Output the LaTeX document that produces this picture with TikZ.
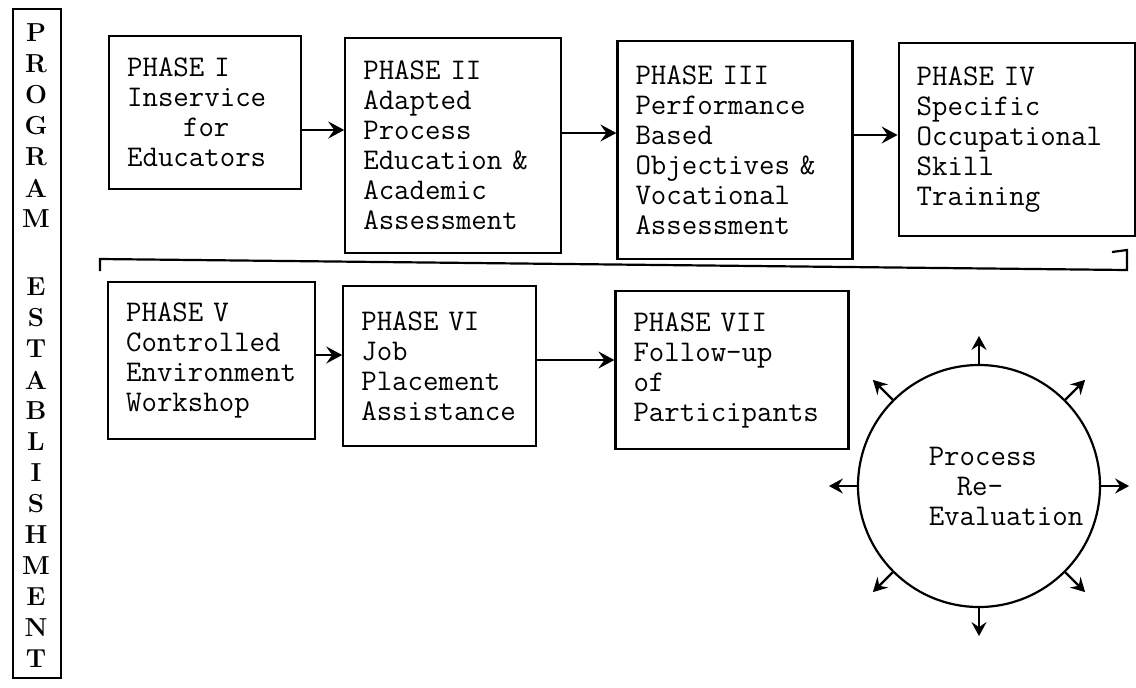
\documentclass[tikz,border=0pt]{standalone}
\usepackage{tikz}
\usetikzlibrary{arrows.meta,positioning}

\begin{document}
\begin{tikzpicture}[
    x=0.5pt, y=-0.5pt,
    phase/.style 2 args={draw, line width=1.1pt, rectangle, align=left,
        inner xsep=9pt, text width=#1, minimum height=#2,
        font=\ttfamily\fontsize{15}{15}\selectfont},
    flow/.style={-{Stealth[length=8pt,width=8.5pt,inset=3pt]}, line width=1.1pt},
    spoke/.style={-{Stealth[length=7pt,width=7.5pt,inset=2.5pt]}, line width=1.2pt},
    letter/.style={font=\bfseries\fontsize{13}{15}\selectfont, inner sep=0pt}
]
\fill[white] (0,0) rectangle (1136,687);
\useasboundingbox (0,0) rectangle (1136,687);

% side banner
\node[draw, line width=1.1pt, minimum width=24pt, minimum height=334.5pt,
      inner sep=0pt, anchor=north west] (estab) at (12,8) {};
\foreach \ch [count=\i from 0] in {P,R,O,G,R,A,M}
    \node[letter] (prog\i) at (36,33+31*\i) {\ch};
\foreach \ch [count=\i from 0] in {E,S,T,A,B,L,I,S,H,M,E,N,T}
    \node[letter] (est\i) at (36,287+31*\i) {\ch};

% first row of phases
\node[phase={78pt}{76.5pt}, anchor=north west] (p1) at (108,35)
    {PHASE I\\Inservice\\\hspace*{28pt}for\\Educators};
\node[phase={90pt}{107.5pt}, right=21pt of p1.north east, anchor=north west, yshift=-1pt] (p2)
    {PHASE II\\Adapted\\Process\\Education \&\\Academic\\Assessment};
\node[phase={99.5pt}{109pt}, right=27pt of p2.north east, anchor=north west, yshift=-1.5pt] (p3)
    {PHASE III\\Performance\\Based\\Objectives \&\\Vocational\\Assessment};
\node[phase={100pt}{96.5pt}, right=22pt of p3.north east, anchor=north west, yshift=-1pt] (p4)
    {PHASE IV\\Specific\\Occupational\\Skill\\Training\\[-9pt]};

% second row of phases
\node[phase={85.5pt}{78.5pt}, anchor=north west] (p5) at (107,281)
    {PHASE V\\Controlled\\Environment\\Workshop};
\node[phase={78.5pt}{80pt}, right=13pt of p5.north east, anchor=north west, yshift=-2pt] (p6)
    {PHASE VI\\Job\\Placement\\Assistance};
\node[phase={98.5pt}{79pt}, right=38.5pt of p6.north east, anchor=north west, yshift=-2.5pt] (p7)
    {PHASE VII\\Follow-up\\of\\Participants};

% arrows between phases
\draw[flow] (p1.east |- 0,130) -- (p2.west |- 0,130);
\draw[flow] (p2.east |- 0,133) -- (p3.west |- 0,133);
\draw[flow] (p3.east |- 0,135) -- (p4.west |- 0,135);
\draw[flow] (p5.east |- 0,355) -- (p6.west |- 0,355);
\draw[flow] (p6.east |- 0,360) -- (p7.west |- 0,360);

% line carrying the flow down to the second row
\coordinate (hookR) at (1112,252);
\coordinate (cornerR) at (1127,250);
\coordinate (turnR) at (1127,270);
\coordinate (turnL) at (100,259);
\coordinate (hookL) at (100,271);
\draw[line width=1.1pt] (hookR) -- (cornerR) -- (turnR) -- (turnL) -- (hookL);

% re-evaluation circle with its spokes
\node[draw, circle, line width=1.1pt, minimum size=121pt, inner sep=0pt] (reval) at (979,486) {};
\node[align=left, font=\ttfamily\fontsize{15}{15}\selectfont, xshift=13.5pt] (revaltext) at (reval.center)
    {Process\\\hspace*{14pt}Re-\\Evaluation};
\foreach \a in {0,45,...,315}
    \draw[spoke] (reval.\a) -- ++(\a:14pt);

\end{tikzpicture}
\end{document}
